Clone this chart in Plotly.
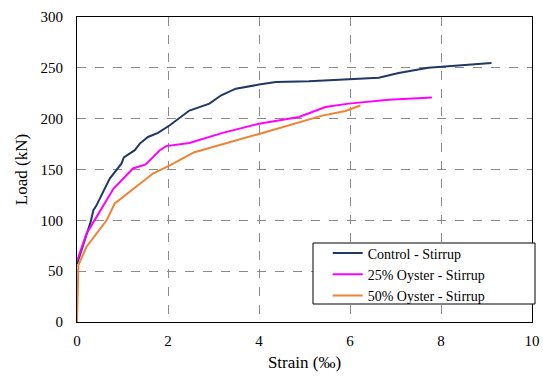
import plotly.graph_objects as go

ctrl_x = [0, 0.14, 0.3, 0.36, 0.42, 0.72, 0.83, 0.98, 1.03, 1.27, 1.38, 1.56, 1.78, 2.04, 2.47, 2.91, 3.17, 3.49, 4.0, 4.37, 5.1, 5.97, 6.63, 7.07, 7.72, 9.11]
ctrl_y = [57, 77, 98.5, 110, 114, 141, 147.6, 156, 162, 169, 175.5, 182, 186, 193.5, 208, 214.8, 223, 229.5, 233.5, 236, 236.7, 238.4, 240.3, 245, 250, 254.7]

o25_x = [0, 0.21, 0.43, 0.8, 1.23, 1.51, 1.82, 1.96, 2.47, 3.2, 4.0, 4.88, 5.46, 5.97, 6.85, 7.8]
o25_y = [60, 87, 103.4, 131, 151, 155, 169, 173, 176, 186, 195, 201.7, 211.5, 214.8, 218.7, 220.7]

o50_x = [0, 0.03, 0.21, 0.65, 0.83, 1.16, 1.67, 2.04, 2.58, 4.0, 4.88, 5.39, 5.9, 6.23]
o50_y = [0, 56, 74, 100, 116.6, 128, 146, 154, 167, 185, 196.8, 203, 207.6, 213]

names = ["Control - Stirrup", "25% Oyster - Stirrup", "50% Oyster - Stirrup"]
colors = ["#1F3864", "#FF00FF", "#F08232"]

fig = go.Figure()
for xs, ys, n, c in zip([ctrl_x, o25_x, o50_x], [ctrl_y, o25_y, o50_y], names, colors):
    fig.add_trace(go.Scatter(x=xs, y=ys, mode="lines", name=n,
                             line=dict(color=c, width=2)))

FONT = "Liberation Serif"

axis_common = dict(showline=True, linecolor="black", linewidth=1, mirror=True,
                   showgrid=True, gridcolor="#8a8a8a", griddash="dash", gridwidth=1,
                   zeroline=False, ticks="", automargin=False,
                   tickfont=dict(size=15, color="black", family=FONT))

# legend frame
fig.add_shape(type="rect", xref="paper", yref="paper",
              x0=0.5187, x1=1.0066, y0=0.059, y1=0.259,
              line=dict(color="black", width=1), fillcolor="white", layer="above")

fig.update_layout(
    width=543, height=376,
    margin=dict(l=77, r=11, t=17, b=54),
    paper_bgcolor="white", plot_bgcolor="white",
    font=dict(family=FONT, color="black"),
    xaxis=dict(range=[0, 10], dtick=2, ticklabelstandoff=5,
               title=dict(text="Strain (‰)", font=dict(size=17, family=FONT), standoff=8), **axis_common),
    yaxis=dict(range=[0, 300], dtick=50, ticklabelstandoff=10,
               title=dict(text="Load (kN)", font=dict(size=17, family=FONT), standoff=8), **axis_common),
    legend=dict(x=0.551, y=0.277, xanchor="left", yanchor="top",
                borderwidth=0, bgcolor="rgba(0,0,0,0)",
                font=dict(size=14, family=FONT), tracegroupgap=0, itemwidth=30),
    showlegend=True,
)

fig.write_html("out.html", config={"displayModeBar": False},
               post_script="document.body.style.margin='0';document.body.style.overflow='hidden';")
